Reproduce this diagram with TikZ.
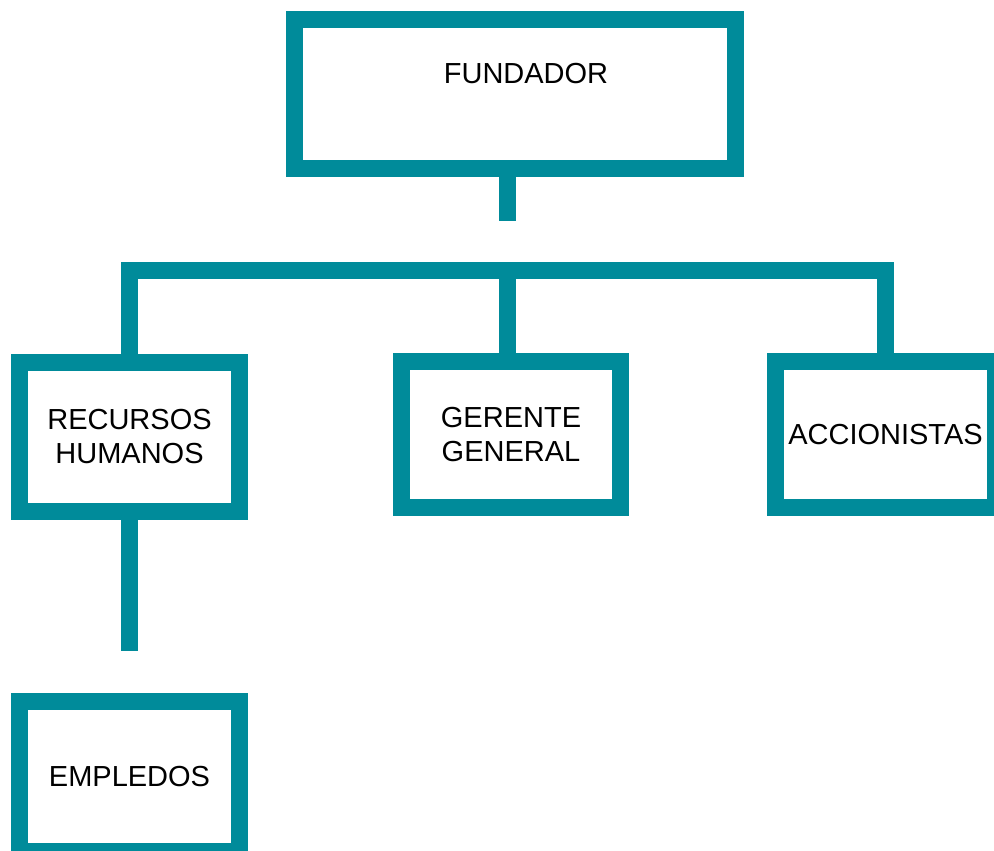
\documentclass[tikz,border=0pt]{standalone}
\usepackage{fontspec}
\setmainfont{Liberation Sans}
\definecolor{orgteal}{RGB}{0,139,154}
\tikzset{
  orgbox/.style = {draw=orgteal, line width=12.75pt, fill=white,
                  inner sep=0pt, align=center, minimum width=165pt,
                  minimum height=#1, font=\fontsize{21.75}{25.9}\selectfont},
  orgbox/.default = 109.5pt,
  orgline/.style = {draw=orgteal, line width=12.75pt, line join=miter},
}

\begin{document}
\begin{tikzpicture}[x=0.75pt,y=-0.75pt]
\useasboundingbox (0,0) rectangle (994,850);
\node[orgbox=112.1pt, minimum width=330.75pt, text depth=30.75pt] (fund) at (515,94.25) {\hspace*{16.5pt}FUNDADOR};
\node[orgbox=111.75pt] (rh) at (129.5,436.5) {RECURSOS\\HUMANOS};
\node[orgbox, minimum width=164.25pt] (gg) at (511,434.5) {GERENTE\\GENERAL};
\node[orgbox] (acc) at (885.5,434.5) {ACCIONISTAS};
\node[orgbox=112.5pt] (emp) at (129.5,776.5) {EMPLEDOS};
\coordinate (fundstub) at (507.5,221);
\coordinate (bar) at (507.5,270.5);
\coordinate (rhstub) at (129.5,651);
\path[orgline] (fund.south -| fundstub) -- (fundstub);
\path[orgline] (rh.north) |- (bar) -| (acc.north);
\path[orgline] (bar) -- (gg.north -| bar);
\path[orgline] (rh.south) -- (rhstub);
\end{tikzpicture}
\end{document}
